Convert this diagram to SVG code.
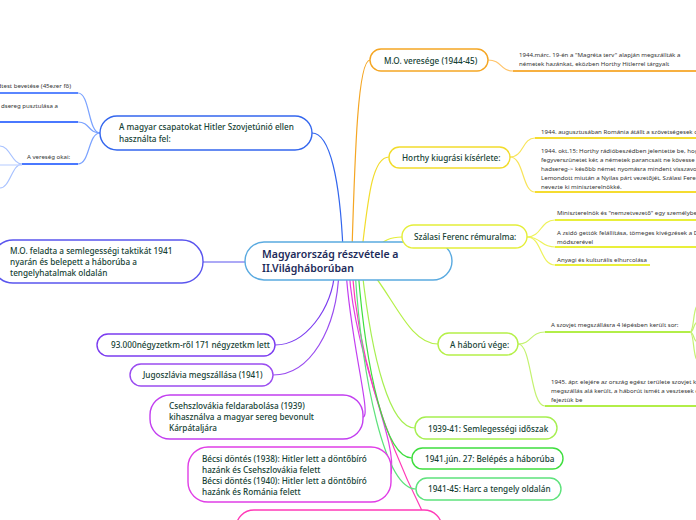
<svg xmlns="http://www.w3.org/2000/svg" width="696" height="520" viewBox="0 0 696 520">
<style>
.n{fill:#fff;stroke-width:1.4}
.t{font-family:"Noto Sans","Open Sans",sans-serif;font-size:8.2px;font-weight:500;fill:#163f34}
.c{font-family:"Noto Sans","Open Sans",sans-serif;font-size:10.5px;font-weight:600;fill:#1d2b5a}
.s{font-family:"Noto Sans","Open Sans",sans-serif;font-size:6.1px;fill:#333}
.l{fill:none;stroke-width:1.2}
.u{fill:none;stroke-width:2}
</style>
<rect width="696" height="520" fill="#fff"/>
<g id="connectors">
<path class="l" stroke="#3366ee" d="M343 250 C340 180,330 133,312 133"/>
<path class="l" stroke="#f5a623" d="M352 250 C355 150,358 60,370 60"/>
<path class="l" stroke="#f2dc2c" d="M362 250 C368 200,372 157,389 157"/>
<path class="l" stroke="#e4ee3a" d="M372 250 C385 240,390 237,402 237"/>
<path class="l" stroke="#5a55ee" d="M203 262 L250 262"/>
<path class="l" stroke="#7b3cf0" d="M335 270 C332 310,305 345,275 345"/>
<path class="l" stroke="#9a4cf0" d="M339 270 C337 330,310 375,273 375"/>
<path class="l" stroke="#c23ef0" d="M346 270 C350 340,372 417,363 417"/>
<path class="l" stroke="#e03ee6" d="M349 270 C355 360,398 440,391 474"/>
<path class="l" stroke="#ff3ab8" d="M352 270 C360 380,400 470,432 530"/>
<path class="l" stroke="#5ee27c" d="M355 270 C362 380,385 489,416 489"/>
<path class="l" stroke="#3fde3f" d="M358 270 C366 370,385 458,412 458"/>
<path class="l" stroke="#a6ef50" d="M362 270 C372 360,390 428,415 428"/>
<path class="l" stroke="#b5f048" d="M370 270 C395 300,410 344,438 344"/>
<path class="l" stroke="#7aa2ff" d="M100 133 C88 133,90 93,78 93"/>
<path class="u" stroke="#5a86ff" d="M78 93 L0 93"/>
<path class="l" stroke="#7aa2ff" d="M100 133 C88 133,90 122,78 122"/>
<path class="u" stroke="#4a78ff" d="M78 122 L0 122"/>
<path class="l" stroke="#7aa2ff" d="M100 133 C88 133,90 164,78 164"/>
<path class="u" stroke="#4a78ff" d="M78 164 L22 164"/>
<path class="l" stroke="#a8c2ff" d="M22 164 C12 164,10 146,0 146"/>
<path class="l" stroke="#a8c2ff" d="M22 164 C12 164,10 188,0 188"/>
<path class="l" stroke="#c2d4ff" d="M22 165 L0 165"/>
<path class="l" stroke="#ffc46a" d="M488 60 C502 60,500 71,513 71"/>
<path class="u" stroke="#f7b040" d="M513 71 L696 71"/>
<path class="l" stroke="#f8e45a" d="M510 157 C524 157,522 138,535 138"/>
<path class="u" stroke="#f5dc30" d="M535 138 L696 138"/>
<path class="l" stroke="#f8e45a" d="M510 157 C524 157,522 192,535 192"/>
<path class="u" stroke="#f5dc30" d="M535 192 L696 192"/>
<path class="l" stroke="#eef25a" d="M527 237 C542 237,540 220,555 220"/>
<path class="u" stroke="#e9ef3a" d="M555 220 L696 220"/>
<path class="l" stroke="#eef25a" d="M527 237 C542 237,540 247,555 247"/>
<path class="u" stroke="#e9ef3a" d="M555 247 L696 247"/>
<path class="l" stroke="#eef25a" d="M527 237 C542 237,540 265,555 265"/>
<path class="u" stroke="#e9ef3a" d="M555 265 L650 265"/>
<path class="l" stroke="#c4f270" d="M518 344 C532 344,530 332,545 332"/>
<path class="u" stroke="#b2ee48" d="M545 332 L690 332"/>
<path class="l" stroke="#c4f270" d="M518 344 C532 344,530 406,545 406"/>
<path class="u" stroke="#b2ee48" d="M545 406 L696 406"/>
<path class="l" stroke="#c4f270" d="M690 332 C694 332,693 310,697 306"/>
<path class="l" stroke="#c4f270" d="M690 332 C694 332,693 324,697 322"/>
<path class="l" stroke="#c4f270" d="M690 332 C694 332,693 340,697 342"/>
<path class="l" stroke="#c4f270" d="M690 332 C694 332,693 356,697 360"/>
</g>
<g id="root">
<rect class="n" stroke="#5aaae0" x="245" y="242" width="207" height="38" rx="19"/>
<text class="c" x="262" y="258">Magyarország részvétele a</text>
<text class="c" x="262" y="272">II.Világháborúban</text>
</g>
<g id="n-hitler">
<rect class="n" stroke="#3366ee" x="100" y="116" width="212" height="34" rx="17"/>
<text class="t" x="119" y="130">A magyar csapatokat Hitler  Szovjetúnió ellen</text>
<text class="t" x="119" y="142">használta fel:</text>
</g>
<g id="n-hitler-sub">
<text class="s" x="71" y="88" text-anchor="end">dtest bevetése (45ezer fő)</text>
<text class="s" x="1" y="108">dsereg pusztulása a</text>
<text class="s" x="27" y="159">A vereség okai:</text>
</g>
<g id="n-feladta">
<rect class="n" stroke="#5a55ee" x="-8" y="240" width="211" height="43" rx="21"/>
<text class="t" x="10" y="254">M.O. feladta a semlegességi taktikát 1941</text>
<text class="t" x="10" y="265">nyarán és belepett a háborúba a</text>
<text class="t" x="10" y="276">tengelyhatalmak oldalán</text>
</g>
<g id="n-93000">
<rect class="n" stroke="#7b3cf0" x="97" y="334" width="178" height="22" rx="11"/>
<text class="t" x="111" y="348">93.000négyzetkm-ről 171 négyzetkm lett</text>
</g>
<g id="n-jugo">
<rect class="n" stroke="#9a4cf0" x="130" y="364" width="143" height="22" rx="11"/>
<text class="t" x="143" y="378">Jugoszlávia megszállása (1941)</text>
</g>
<g id="n-cseh">
<rect class="n" stroke="#c23ef0" x="150" y="395" width="213" height="44" rx="20"/>
<text class="t" x="169" y="409">Csehszlovákia feldarabolása (1939)</text>
<text class="t" x="169" y="420">kihasználva a magyar sereg bevonult</text>
<text class="t" x="169" y="431">Kárpátaljára</text>
</g>
<g id="n-becsi">
<rect class="n" stroke="#e03ee6" x="188" y="447" width="203" height="55" rx="20"/>
<text class="t" x="202" y="462">Bécsi döntés (1938): Hitler lett a döntőbíró</text>
<text class="t" x="202" y="473">hazánk és Csehszlovákia felett</text>
<text class="t" x="202" y="484">Bécsi döntés (1940): Hitler lett a döntőbíró</text>
<text class="t" x="202" y="495">hazánk és Románia felett</text>
</g>
<g id="n-bottom">
<rect class="n" stroke="#ff3ab8" x="236" y="510" width="206" height="40" rx="18"/>
</g>
<g id="n-vereseg">
<rect class="n" stroke="#f5a623" x="370" y="49" width="118" height="22" rx="11"/>
<text class="t" x="384" y="64">M.O. veresége (1944-45)</text>
<text class="s" x="519" y="57">1944.márc. 19-én a "Magréta terv" alapján megszállták a</text>
<text class="s" x="519" y="66">németek hazánkat, eközben Horthy Hitlerrel tárgyalt</text>
</g>
<g id="n-horthy">
<rect class="n" stroke="#f2dc2c" x="389" y="147" width="121" height="21" rx="10.5"/>
<text class="t" x="402" y="161">Horthy kiugrási kísérlete:</text>
<text class="s" x="541" y="134">1944. augusztusában Románia átállt a szövetségesek oldalára</text>
<text class="s" x="541" y="153">1944. okt.15: Horthy rádióbeszédben jelentette be, hogy</text>
<text class="s" x="541" y="162">fegyverszünetet kér, a németek parancsait ne kövesse a</text>
<text class="s" x="541" y="171">hadsereg-&gt; később német nyomásra mindent visszavont.</text>
<text class="s" x="541" y="180">Lemondott miután a Nyilas párt vezetőjét, Szálasi Ferencet</text>
<text class="s" x="541" y="189">nevezte ki miniszterelnökké.</text>
</g>
<g id="n-szalasi">
<rect class="n" stroke="#e4ee3a" x="402" y="225" width="125" height="23" rx="11.5"/>
<text class="t" x="414" y="240">Szálasi Ferenc rémuralma:</text>
<text class="s" x="557" y="215">Miniszterelnök és "nemzetvezető" egy személyben</text>
<text class="s" x="557" y="235">A zsidó gettók felállítása, tömeges kivégzések a Duna-parton</text>
<text class="s" x="557" y="244">módszerével</text>
<text class="s" x="557" y="262">Anyagi és kulturális elhurcolása</text>
</g>
<g id="n-vege">
<rect class="n" stroke="#b5f048" x="438" y="333" width="80" height="22" rx="11"/>
<text class="t" x="450" y="348">A háború vége:</text>
<text class="s" x="551" y="327">A szovjet megszállásra 4 lépésben került sor:</text>
<text class="s" x="551" y="384">1945. ápr. elejére az ország egész területe szovjet katonai</text>
<text class="s" x="551" y="393">megszállás alá került, a háborút ismét a vesztesek oldalán</text>
<text class="s" x="551" y="402">fejeztük be</text>
</g>
<g id="n-1939">
<rect class="n" stroke="#a6ef50" x="415" y="417" width="142" height="22" rx="11"/>
<text class="t" x="428" y="432">1939-41: Semlegességi időszak</text>
</g>
<g id="n-1941jun">
<rect class="n" stroke="#3fde3f" x="412" y="448" width="151" height="21" rx="10.5"/>
<text class="t" x="425" y="462">1941.jún. 27: Belépés a háborúba</text>
</g>
<g id="n-1941-45">
<rect class="n" stroke="#5ee27c" x="416" y="478" width="145" height="22" rx="11"/>
<text class="t" x="428" y="492">1941-45: Harc a tengely oldalán</text>
</g>
</svg>
